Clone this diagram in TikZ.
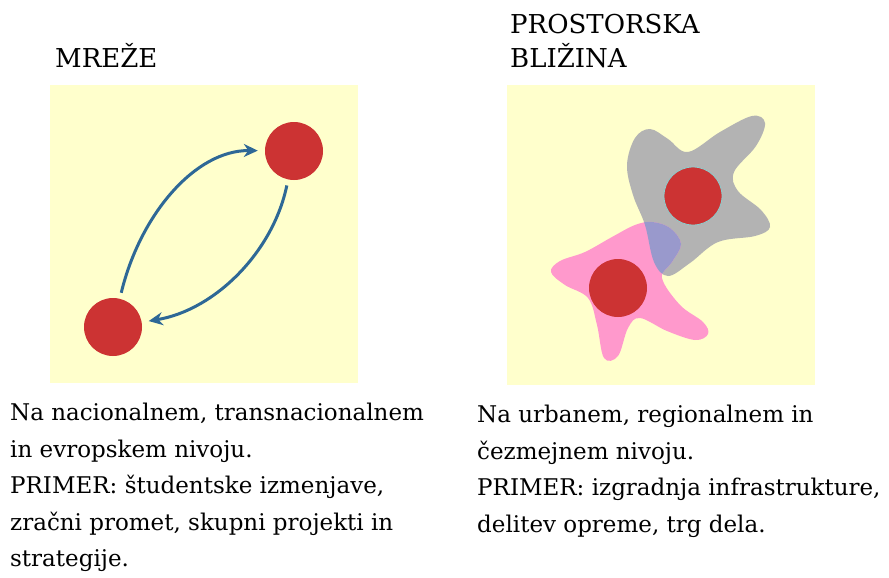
\documentclass[tikz,border=0pt]{standalone}
\usepackage{fontspec}
\setmainfont{DejaVu Serif}
\usetikzlibrary{arrows.meta}
\definecolor{panelyellow}{RGB}{255,255,204}
\definecolor{dotred}{RGB}{204,51,51}
\definecolor{arrowblue}{RGB}{46,104,150}
\definecolor{blobgray}{RGB}{179,179,179}
\definecolor{blobpink}{RGB}{255,153,204}
\definecolor{bloboverlap}{RGB}{153,153,204}
\definecolor{ringcyan}{RGB}{140,205,205}
\tikzset{
  dot/.style={circle, fill=dotred, minimum size=58pt, inner sep=0pt},
  flow/.style={arrowblue, line width=3pt, -{Stealth[length=14pt,width=13pt]},
    shorten <=6pt, shorten >=7pt},
  title/.style={anchor=base west, inner sep=0pt, align=left,
    font=\fontsize{26}{35}\selectfont},
  caption/.style={anchor=north west, inner sep=0pt, align=left,
    font=\fontsize{23}{36.5}\selectfont},
}
\def\grayblob{plot[smooth cycle, tension=0.6] coordinates {
  (627,165) (635,138) (650,129) (668,139) (688,152) (720,132) (752,116)
  (765,123) (756,146) (734,172) (738,191) (761,210) (770,227) (755,236)
  (718,242) (690,263) (668,276) (654,262) (645,225) (633,195)}}
\def\pinkblob{plot[smooth cycle, tension=0.6] coordinates {
  (652,222) (670,228) (681,244) (672,262) (662,278) (680,305) (703,322)
  (708,334) (695,340) (667,331) (640,318) (628,328) (618,356) (604,358)
  (597,325) (588,298) (565,285) (551,272) (560,261) (585,252) (612,237)
  (635,225)}}
\begin{document}
\begin{tikzpicture}[x=1pt, y=-1pt]
  \useasboundingbox (0,0) rectangle (889,578);
  % panels
  \fill[panelyellow] (50,85) rectangle (358,383);
  \fill[panelyellow] (507,85) rectangle (815,385);
  % titles
  \node[title] (mreze) at (55,67) {MREŽE};
  \node[title] (blizina) at (510,68) {PROSTORSKA\\BLIŽINA};
  % networks
  \node[dot] (north) at (294,151) {};
  \node[dot] (south) at (113,327) {};
  \draw[flow] (south) .. controls (140,215) and (195,150) .. (north);
  \draw[flow] (north) .. controls (273,252) and (215,310) .. (south);
  % proximity
  \fill[blobgray] \grayblob;
  \fill[blobpink] \pinkblob;
  \begin{scope}
    \clip \grayblob;
    \fill[bloboverlap] \pinkblob;
  \end{scope}
  \node[dot, draw=ringcyan, line width=0.8pt] (hub) at (693,196) {};
  \node[dot] (town) at (618,288) {};
  % captions
  \node[caption] (left) at (10,403)
    {Na nacionalnem, transnacionalnem\\in evropskem nivoju.\\PRIMER: študentske izmenjave,\\zračni promet, skupni projekti in\\strategije.};
  \node[caption] (right) at (477,405)
    {Na urbanem, regionalnem in\\čezmejnem nivoju.\\PRIMER: izgradnja infrastrukture,\\delitev opreme, trg dela.};
\end{tikzpicture}
\end{document}
